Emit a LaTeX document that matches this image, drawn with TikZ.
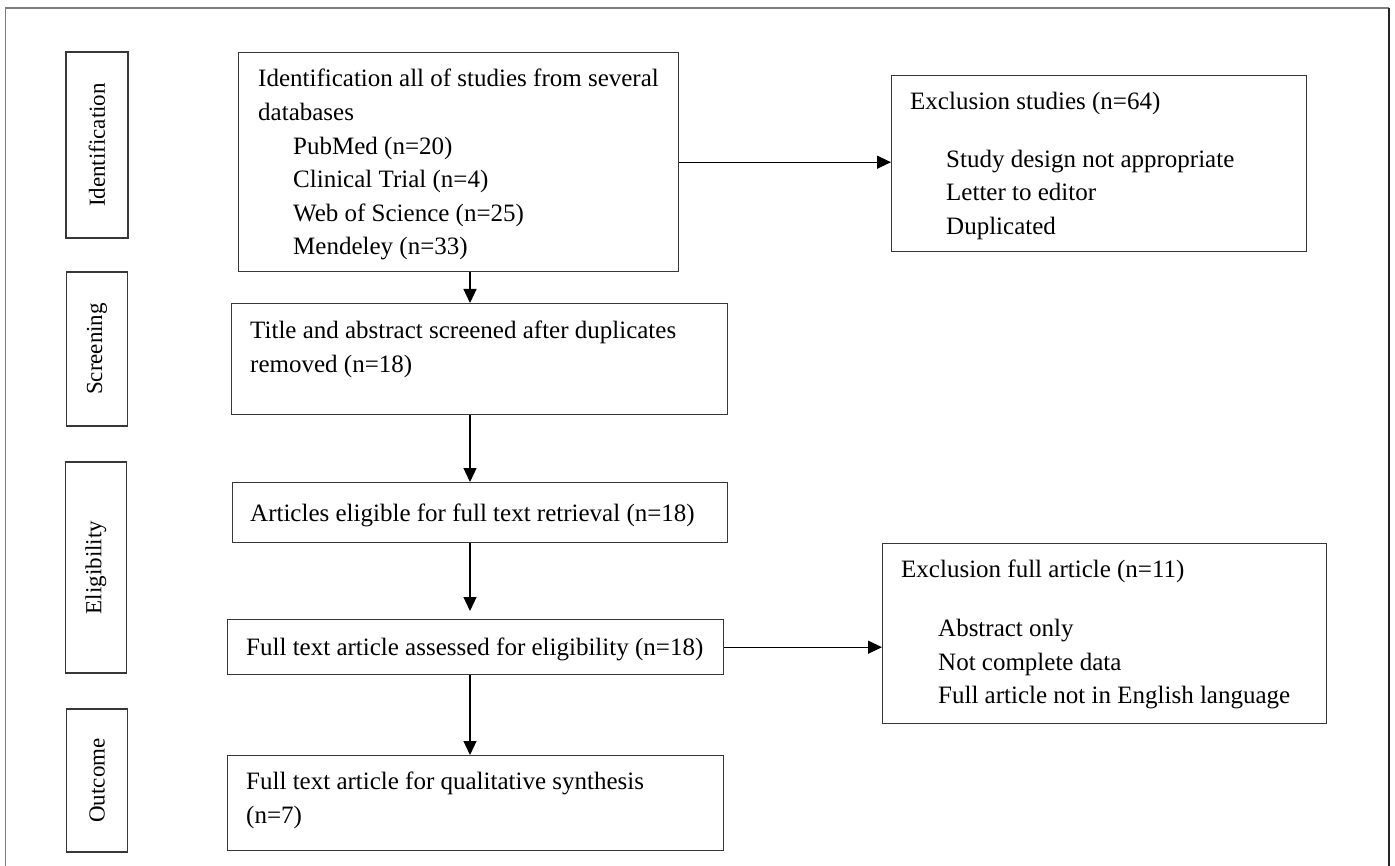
\documentclass[tikz,border=0pt]{standalone}
\usepackage{fontspec}
\setmainfont{Liberation Serif}
\usetikzlibrary{arrows.meta,positioning,calc}
\definecolor{boxgray}{RGB}{55,55,55}
\definecolor{framegray}{RGB}{125,125,125}

\begin{document}
\begin{tikzpicture}[x=1pt,y=-1pt,
    box/.style={draw=boxgray,line width=1.4pt,inner sep=0pt,anchor=north west},
    stage/.style={draw=boxgray,line width=1.4pt,rotate=90,font=\fontsize{23}{27}\selectfont},
    txt/.style={anchor=north west,inner sep=0pt,align=left,font=\fontsize{25}{33.6}\selectfont},
    arr/.style={line width=1.3pt,-{Triangle[length=14pt,width=13pt]}}]
    \useasboundingbox (0,0) rectangle (1395,866);

    % outer frame
    \draw[framegray,line width=1.5pt] (5.5,866) -- (5.5,8) -- (1389,8);
    \draw[black!85,line width=1.5pt] (1389,8) -- (1389,866);

    % stage labels on the left
    \node[stage,minimum width=186pt,minimum height=62pt] (sident) at (97,145) {Identification};
    \node[stage,minimum width=154pt,minimum height=61pt] (sscreen) at (97,349) {Screening};
    \node[stage,minimum width=211pt,minimum height=61pt] (selig) at (96,567.5) {Eligibility};
    \node[stage,minimum width=143pt,minimum height=61pt] (soutcome) at (97,780.5) {Outcome};

    % main boxes
    \node[box,minimum width=440pt,minimum height=219pt] (ident) at (238,52) {};
    \node[box,minimum width=415pt,minimum height=176pt] (excl1) at (891,75) {};
    \node[box,minimum width=496pt,minimum height=111pt] (screen) at (231,303) {};
    \node[box,minimum width=495pt,minimum height=60pt] (elig) at (232,482) {};
    \node[box,minimum width=496pt,minimum height=55pt] (assess) at (227,619) {};
    \node[box,minimum width=444pt,minimum height=180pt] (excl2) at (882,543) {};
    \node[box,minimum width=496pt,minimum height=95pt] (final) at (227,755) {};

    % texts
    \node[txt] (identtxt) at (258,69) {Identification all of studies from several\\
        databases\\
        \hspace{35pt}PubMed (n=20)\\
        \hspace{35pt}Clinical Trial (n=4)\\
        \hspace{35pt}Web of Science (n=25)\\
        \hspace{35pt}Mendeley (n=33)};
    \node[txt] (excl1txt) at (910,92) {Exclusion studies (n=64)\\[24pt]
        \hspace{36pt}Study design not appropriate\\
        \hspace{36pt}Letter to editor\\
        \hspace{36pt}Duplicated};
    \node[txt] (screentxt) at (250,321) {Title and abstract screened after duplicates\\
        removed (n=18)};
    \node[txt] (eligtxt) at (250,504) {Articles eligible for full text retrieval (n=18)};
    \node[txt] (assesstxt) at (246,638) {Full text article assessed for eligibility (n=18)};
    \node[txt] (excl2txt) at (901,560) {Exclusion full article (n=11)\\[25pt]
        \hspace{37pt}Abstract only\\
        \hspace{37pt}Not complete data\\
        \hspace{37pt}Full article not in English language};
    \node[txt] (finaltxt) at (246,772) {Full text article for qualitative synthesis\\
        (n=7)};

    % arrows
    \coordinate (spine) at (470,0);
    \draw[arr] (ident.south -| spine) -- (screen.north -| spine);
    \draw[arr] (screen.south -| spine) -- (elig.north -| spine);
    \draw[arr,shorten >=8pt] (elig.south -| spine) -- (assess.north -| spine);
    \draw[arr] (assess.south -| spine) -- (final.north -| spine);
    \draw[arr] (ident.east) -- (ident.east -| excl1.west);
    \draw[arr] (assess.east) -- (assess.east -| excl2.west);
\end{tikzpicture}
\end{document}
